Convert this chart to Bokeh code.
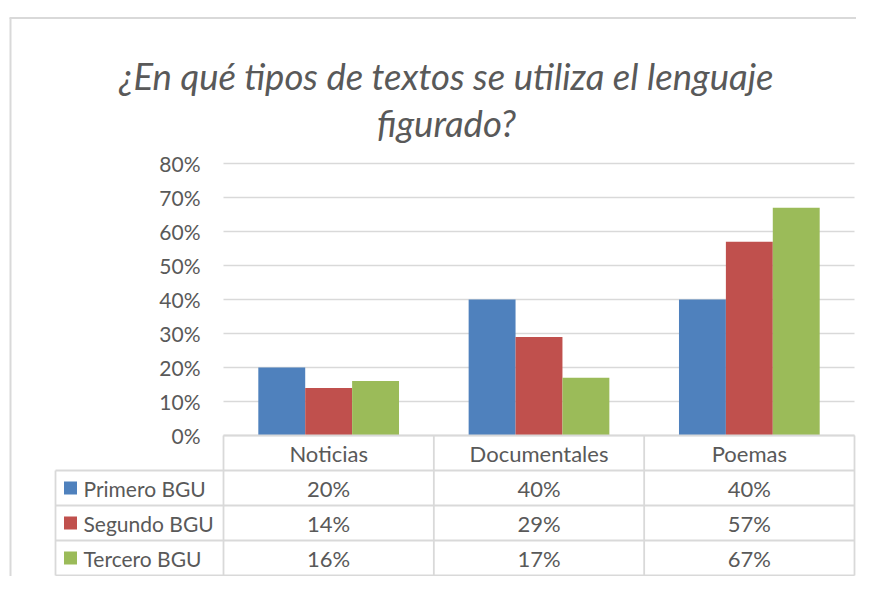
from bokeh.plotting import figure
from bokeh.models import Range1d
from bokeh.embed import file_html
from bokeh.resources import INLINE
from bokeh.core.properties import value

# ---------------- data ----------------
categories = ["Noticias", "Documentales", "Poemas"]
series_names = ["Primero BGU", "Segundo BGU", "Tercero BGU"]
primero = [0.20, 0.40, 0.40]
segundo = [0.14, 0.29, 0.57]
tercero = [0.16, 0.17, 0.67]
y_ticks = [0.0, 0.1, 0.2, 0.3, 0.4, 0.5, 0.6, 0.7, 0.8]
title_lines = ["¿En qué tipos de textos se utiliza el lenguaje", "figurado?"]

colors = ["#4F81BD", "#C0504D", "#9BBB59"]
TXT = "#595959"
GRID = "#d9d9d9"
FONT = "Lato"
series_values = [primero, segundo, tercero]

# ---------------- layout (pixels on the canvas) ----------------
W, H = 856, 576
PLOT_L, PLOT_R = 223, 854  # plot area left/right
PLOT_T, PLOT_B = 163, 435  # plot area top (80%) / bottom (0%)
ymax = y_ticks[-1]
ncat = len(categories)
nser = len(series_names)
ppx = (PLOT_R - PLOT_L) / ncat          # px per category
ppy = (PLOT_B - PLOT_T) / ymax          # px per unit of value


def dx(px):   # canvas x -> data x
    return (px - PLOT_L) / ppx


def dy(py):   # canvas y -> data y
    return (PLOT_B - py) / ppy


p = figure(width=W, height=H,
           x_range=Range1d(dx(0), dx(W)), y_range=Range1d(dy(H), dy(0)),
           x_axis_location=None, y_axis_location=None,
           output_backend="svg", toolbar_location=None,
           min_border_left=0, min_border_right=0, min_border_top=0, min_border_bottom=0)
p.outline_line_color = None
p.xgrid.visible = False
p.ygrid.visible = False
p.background_fill_color = "white"

# chart border (top and left edges visible)
p.segment(x0=[dx(9), dx(10)], y0=[dy(17.5), dy(17.5)], x1=[dx(W + 10), dx(10)],
          y1=[dy(17.5), dy(H + 10)], line_color=GRID, line_width=2)

# title
p.text(x=[dx(446)] * 2, y=[dy(75), dy(122)], text=title_lines,
       text_align="center", text_baseline="alphabetic", text_font=value(FONT),
       text_font_style="italic", text_font_size="36.5px", text_color=TXT)

# gridlines and y tick labels
p.segment(x0=[0] * len(y_ticks), y0=y_ticks, x1=[ncat] * len(y_ticks), y1=y_ticks,
          line_color=GRID, line_width=1.6)
p.text(x=[dx(PLOT_L - 23)] * len(y_ticks), y=y_ticks,
       text=["%d%%" % round(v * 100) for v in y_ticks],
       text_align="right", text_baseline="middle", text_font=value(FONT),
       text_font_size="21px", text_color=TXT)

# bars
bw = 0.223
for i in range(nser):
    off = (i - (nser - 1) / 2) * bw
    p.vbar(x=[c + 0.5 + off for c in range(ncat)], top=series_values[i], width=bw,
           fill_color=colors[i], line_color=None)

# ---------------- data table ----------------
rh = 35.0 / ppy                 # row height in data units
left_col = dx(55)
row_lines = [-k * rh for k in range(nser + 2)]
hx0 = [0] + [left_col] * (nser + 1)
p.segment(x0=hx0, y0=row_lines, x1=[ncat] * len(row_lines), y1=row_lines,
          line_color=GRID, line_width=1.8)
vx = [left_col] + list(range(ncat + 1))
vtop = [row_lines[1]] + [row_lines[0]] * (ncat + 1)
p.segment(x0=vx, y0=[row_lines[-1]] * len(vx), x1=vx, y1=vtop,
          line_color=GRID, line_width=1.8)

# header row
p.text(x=[i + 0.5 for i in range(ncat)], y=[-0.5 * rh] * ncat, text=categories,
       text_align="center", text_baseline="middle", text_font=value(FONT),
       text_font_size="22px", text_color=TXT)
for r in range(nser):
    yy = -(r + 1.5) * rh
    p.scatter(x=[dx(70)], y=[yy], marker="square", size=13,
              fill_color=colors[r], line_color=None)
    p.text(x=[dx(83)], y=[yy], text=[series_names[r]],
           text_align="left", text_baseline="middle", text_font=value(FONT),
           text_font_size="21px", text_color=TXT)
    p.text(x=[i + 0.5 for i in range(ncat)], y=[yy] * ncat,
           text=["%d%%" % round(v * 100) for v in series_values[r]],
           text_align="center", text_baseline="middle", text_font=value(FONT),
           text_font_size="22px", text_color=TXT)

open("out.html", "w").write(file_html(p, INLINE))
